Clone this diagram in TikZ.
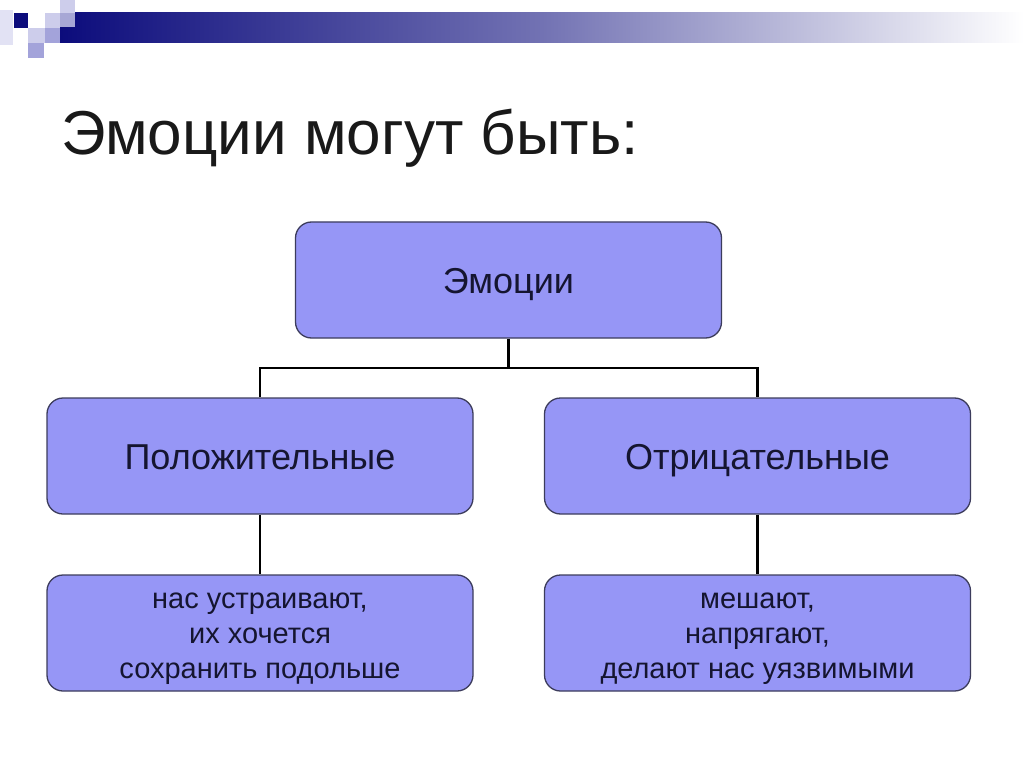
\documentclass[tikz,border=0pt]{standalone}
\usepackage{fontspec}
\setmainfont{Liberation Sans}
\definecolor{navy}{HTML}{0C0C7C}
\definecolor{boxfill}{HTML}{9696F6}
\definecolor{boxline}{HTML}{3C3C5C}
\definecolor{sqA}{HTML}{CDCDEB}
\definecolor{sqB}{HTML}{A3A3DA}
\definecolor{sqC}{HTML}{E2E2F4}
\definecolor{txt}{HTML}{151530}
\begin{document}
\begin{tikzpicture}[x=1pt,y=-1pt,
  box/.style={draw=boxline, line width=1.3pt, fill=boxfill, rounded corners=16pt,
    minimum width=426pt, minimum height=116pt, text=txt, inner sep=0pt, align=center},
  bigtxt/.style={font=\fontsize{36}{42}\selectfont, text height=31pt, text depth=4pt},
  smalltxt/.style={font=\fontsize{29}{35}\selectfont, text=txt, align=center, inner sep=0pt},
  conn/.style={line width=2.2pt, black}]
\useasboundingbox (0,0) rectangle (1024,767);
\fill[white] (0,0) rectangle (1024,767);
% decoration
\fill[left color=navy, right color=white, middle color=navy!58!white] (60,13) rectangle (1024,43);
\fill[navy] (14,13) rectangle (28,28);
\fill[sqC] (0,10) rectangle (13,45);
\fill[sqA] (60,0) rectangle (75,13);
\fill[sqA!80!navy] (60,13) rectangle (75,27);
\fill[sqA] (45,13) rectangle (60,28);
\fill[sqA] (28,28) rectangle (45,43);
\fill[sqB] (45,28) rectangle (60,43);
\fill[sqB] (28,43) rectangle (44,58);
% title
\node[anchor=base west, inner sep=0pt, text=black!90, font=\fontsize{62}{70}\selectfont] (title) at (61,155) {Эмоции могут быть:};
% boxes
\node[box, bigtxt] (top) at (508.5,280) {Эмоции};
\node[box, bigtxt] (pos) at (260,456) {Положительные};
\node[box, bigtxt] (neg) at (757.5,456) {Отрицательные};
\node[box] (posd) at (260,633) {};
\node[box] (negd) at (757.5,633) {};
\node[smalltxt] (posdt) at ([yshift=-6pt]posd.center) {нас устраивают,\\их хочется\\сохранить подольше};
\node[smalltxt] (negdt) at ([yshift=-6pt]negd.center) {мешают,\\напрягают,\\делают нас уязвимыми};
% connectors
\coordinate (j) at (508.5,368);
\draw[conn] (top.south) -- (j);
\draw[conn] (pos.north) |- (j) -| (neg.north);
\draw[conn] (pos.south) -- (posd.north);
\draw[conn] (neg.south) -- (negd.north);
\end{tikzpicture}
\end{document}
